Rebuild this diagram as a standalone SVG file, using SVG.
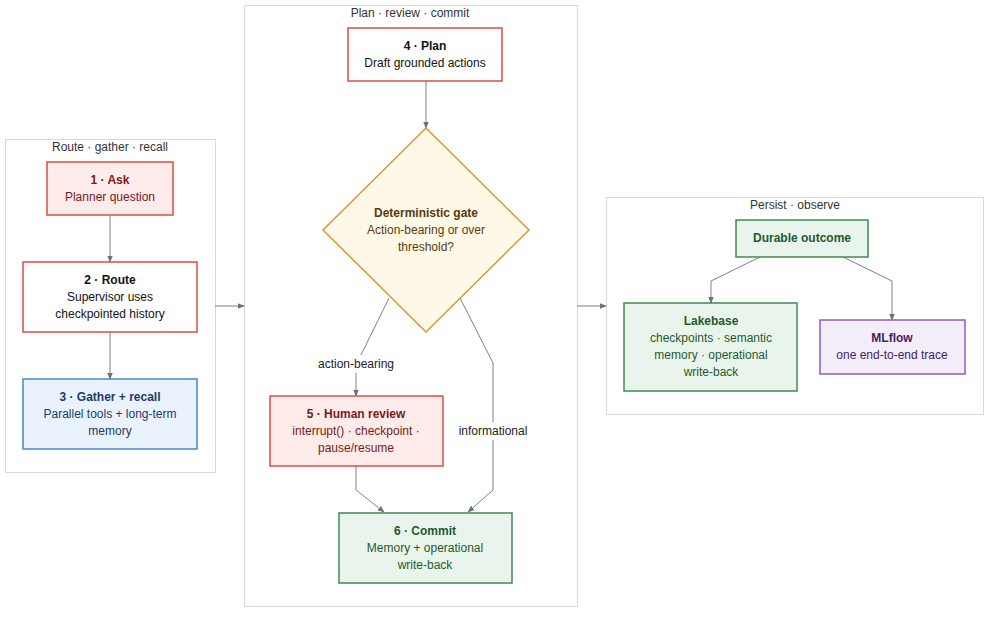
<svg xmlns="http://www.w3.org/2000/svg" width="999" height="619" viewBox="0 0 999 619">
<style>
text{font-family:"Liberation Sans",Arial,sans-serif;font-size:12px;text-anchor:middle;dominant-baseline:central}
.b{font-weight:bold}
.cl{fill:#fff;stroke:#d6d9de;stroke-width:1}
.e{fill:none;stroke:#7b818b;stroke-width:1}
.red rect{fill:#fdecea;stroke:#df4b43;stroke-width:1.5}
.red text{fill:#7a1a1a}
.wr rect{fill:#fff;stroke:#df4b43;stroke-width:1.5}
.wr text{fill:#111}
.blue rect{fill:#eaf3fd;stroke:#4a86c8;stroke-width:1.5}
.blue text{fill:#1d3b6a}
.green rect{fill:#e9f5ec;stroke:#3d8a55;stroke-width:1.5}
.green text{fill:#1f5a2e}
.purple rect{fill:#f4eefb;stroke:#8a5cc4;stroke-width:1.5}
.purple text{fill:#3f2366}
</style>
<defs><marker id="a" viewBox="0 0 10 10" refX="9" refY="5" markerWidth="7" markerHeight="7" orient="auto"><path d="M0,1L10,5L0,9z" fill="#6b717b"/></marker></defs>
<rect width="999" height="619" fill="#fff"/>
<g id="cluster-1"><rect class="cl" x="5.5" y="139.5" width="210" height="333"/><text x="110" y="147" fill="#333">Route · gather · recall</text></g>
<g id="cluster-2"><rect class="cl" x="244.5" y="5.5" width="333" height="601"/><text x="410" y="13" fill="#333">Plan · review · commit</text></g>
<g id="cluster-3"><rect class="cl" x="606.5" y="197.5" width="377" height="217"/><text x="795" y="205" fill="#333">Persist · observe</text></g>
<g id="connectors">
<path class="e" marker-end="url(#a)" d="M110,215V262"/>
<path class="e" marker-end="url(#a)" d="M110,332V379"/>
<path class="e" marker-end="url(#a)" d="M215,306H244"/>
<path class="e" marker-end="url(#a)" d="M577,306H606"/>
<path class="e" marker-end="url(#a)" d="M426,81V128"/>
<path class="e" d="M389,298L361,355"/>
<path class="e" marker-end="url(#a)" d="M356,373V396"/>
<path class="e" d="M460,298L493,363V422"/>
<path class="e" marker-end="url(#a)" d="M493,440V490L468,512"/>
<path class="e" marker-end="url(#a)" d="M356,466V490L384,512"/>
<path class="e" marker-end="url(#a)" d="M760,257L711,281V303"/>
<path class="e" marker-end="url(#a)" d="M843,257L892,281V320"/>
<text x="356" y="364" fill="#222">action-bearing</text>
<text x="493" y="431" fill="#222">informational</text>
</g>
<g id="n1" class="red"><rect x="47" y="162" width="126" height="53"/><text class="b" x="110" y="180">1 · Ask</text><text x="110" y="197">Planner question</text></g>
<g id="n2" class="wr"><rect x="23" y="262" width="174" height="70"/><text class="b" x="110" y="280">2 · Route</text><text x="110" y="297">Supervisor uses</text><text x="110" y="314">checkpointed history</text></g>
<g id="n3" class="blue"><rect x="23" y="379" width="174" height="70"/><text class="b" x="110" y="397">3 · Gather + recall</text><text x="110" y="414">Parallel tools + long-term</text><text x="110" y="431">memory</text></g>
<g id="n4" class="wr"><rect x="348" y="28" width="154" height="53"/><text class="b" x="425" y="46">4 · Plan</text><text x="425" y="63">Draft grounded actions</text></g>
<g id="gate"><path d="M426,128L529,230L426,332L323,230Z" fill="#fef8e6" stroke="#d9963a" stroke-width="1.5"/><text class="b" x="426" y="213" fill="#5a3a10">Deterministic gate</text><text x="426" y="230" fill="#5a3a10">Action-bearing or over</text><text x="426" y="247" fill="#5a3a10">threshold?</text></g>
<g id="n5" class="red"><rect x="270" y="396" width="173" height="70"/><text class="b" x="356" y="414">5 · Human review</text><text x="356" y="431">interrupt() · checkpoint ·</text><text x="356" y="448">pause/resume</text></g>
<g id="n6" class="green"><rect x="339" y="513" width="173" height="70"/><text class="b" x="425" y="531">6 · Commit</text><text x="425" y="548">Memory + operational</text><text x="425" y="565">write-back</text></g>
<g id="durable" class="green"><rect x="736" y="220" width="132" height="37"/><text class="b" x="802" y="238">Durable outcome</text></g>
<g id="lakebase" class="green"><rect x="624" y="303" width="173" height="88"/><text class="b" x="711" y="321">Lakebase</text><text x="711" y="338">checkpoints · semantic</text><text x="711" y="355">memory · operational</text><text x="711" y="372">write-back</text></g>
<g id="mlflow" class="purple"><rect x="820" y="320" width="145" height="54"/><text class="b" x="892" y="338">MLflow</text><text x="892" y="355">one end-to-end trace</text></g>
</svg>
